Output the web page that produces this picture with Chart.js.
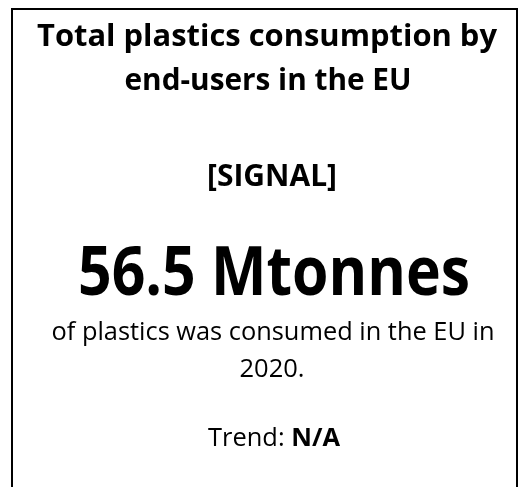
<!DOCTYPE html>
<html>
<head>
<meta charset="utf-8">
<script src="https://cdn.jsdelivr.net/npm/chart.js@4.4.0/dist/chart.umd.min.js"></script>
<style>
  html, body { margin: 0; padding: 0; background: #ffffff; }
  #wrap { width: 528px; height: 487px; position: relative; }
</style>
</head>
<body>
<div id="wrap"><canvas id="c"></canvas></div>
<script>
// ---- data ----
const titleLines = ["Total plastics consumption by", "end-users in the EU"];
const signalLabel = ["[SIGNAL]"];
const headlineValue = [56.5];
const headlineUnit = ["Mtonnes"];
const descriptionLines = ["of plastics was consumed in the EU in", "2020."];
const trendLabel = ["Trend: "];
const trendValue = ["N/A"];

const FONT = "'Open Sans', 'Noto Sans', sans-serif";

const cardPlugin = {
  id: 'card',
  afterDraw(chart) {
    const ctx = chart.ctx;
    ctx.save();
    ctx.fillStyle = '#000';
    ctx.strokeStyle = '#000';
    ctx.lineWidth = 2;
    ctx.beginPath();
    ctx.moveTo(12, 500);
    ctx.lineTo(12, 9);
    ctx.lineTo(517, 9);
    ctx.lineTo(517, 500);
    ctx.stroke();

    ctx.textAlign = 'center';
    ctx.textBaseline = 'alphabetic';
    function line(text, cx, y, font, maxW) {
      ctx.font = font;
      const w = ctx.measureText(text).width;
      if (maxW && w > maxW) ctx.fillText(text, cx, y, maxW);
      else ctx.fillText(text, cx, y);
    }
    line(titleLines[0], 267, 46, "bold 31px " + FONT, 460);
    line(titleLines[1], 268, 90, "bold 31px " + FONT, 287);
    line(signalLabel[0], 272, 186, "bold 31px " + FONT, 130);
    line(headlineValue[0].toFixed(1) + " " + headlineUnit[0], 274, 295, "bold 68px " + FONT, 392);
    line(descriptionLines[0], 273, 340, "25.5px " + FONT, 443);
    line(descriptionLines[1], 272, 377, "25.5px " + FONT, 71);

    // Trend: mixed weight
    const tcx = 274;
    const tW = 132;
    ctx.font = "25.5px " + FONT;
    let w1 = ctx.measureText(trendLabel[0]).width;
    ctx.font = "bold 25.5px " + FONT;
    let w2 = ctx.measureText(trendValue[0]).width;
    const k = Math.min(1, tW / (w1 + w2));
    w1 *= k; w2 *= k;
    const x0 = tcx - (w1 + w2) / 2;
    ctx.textAlign = 'left';
    ctx.font = "25.5px " + FONT;
    ctx.fillText(trendLabel[0], x0, 446, w1);
    ctx.font = "bold 25.5px " + FONT;
    ctx.fillText(trendValue[0], x0 + w1, 446, w2);
    ctx.restore();
  }
};

new Chart(document.getElementById('c'), {
  type: 'bar',
  data: { labels: [], datasets: [{ data: [] }] },
  options: {
    responsive: true,
    maintainAspectRatio: false,
    animation: false,
    events: [],
    layout: { padding: 0 },
    plugins: { legend: { display: false }, tooltip: { enabled: false }, title: { display: false } },
    scales: { x: { display: false }, y: { display: false } }
  },
  plugins: [cardPlugin]
});
</script>
</body>
</html>
